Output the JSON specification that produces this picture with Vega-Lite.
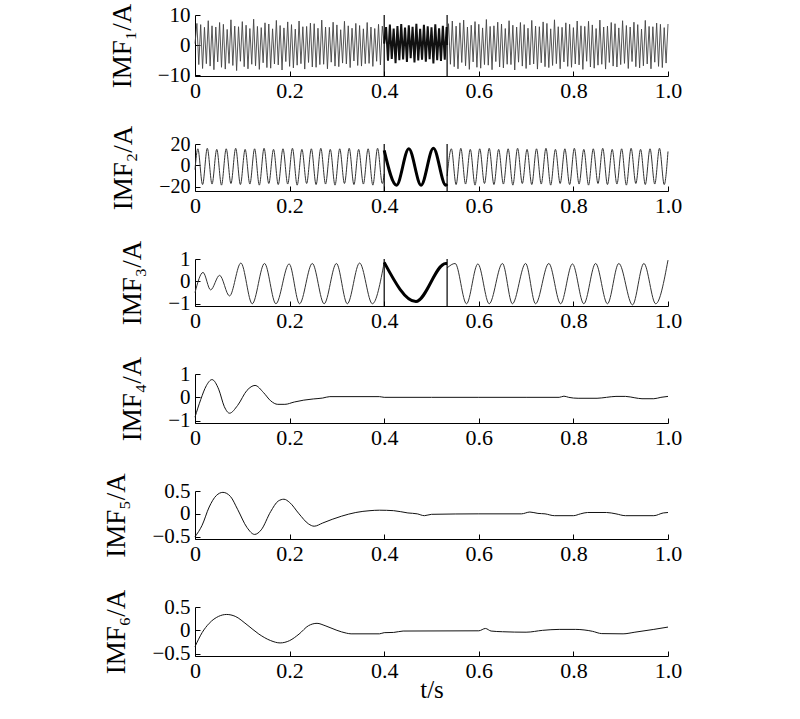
{
"$schema": "https://vega.github.io/schema/vega-lite/v6.json",
"padding": {"left": 102, "top": 3, "right": 5, "bottom": 5},
"background": "white",
"spacing": 68,
"bounds": "flush",
"config": {
  "font": "Liberation Serif",
  "view": {"stroke": null},
  "line": {"interpolate": "monotone"},
  "axis": {"labelFont": "Liberation Serif", "titleFont": "Liberation Serif", "labelFontSize": 22, "titleFontSize": 27, "titleFontWeight": "normal", "labelColor": "#000", "titleColor": "#000", "domainColor": "#000", "tickColor": "#000", "domainWidth": 1, "tickWidth": 1, "tickSize": -5, "grid": false, "labelFlush": false, "labelOverlap": false},
  "axisX": {"labelPadding": 9},
  "axisY": {"labelPadding": 10, "titlePadding": 21, "labelFontSize": 21}
},
"datasets": {
  "vl": [{"t": 0.4}, {"t": 0.533}],
  "d1a": [{"t":0,"v":0.5},{"t":0.004,"v":7.2},{"t":0.008,"v":-6.5},{"t":0.012,"v":6.8},{"t":0.016,"v":-7.8},{"t":0.02,"v":5.9},{"t":0.024,"v":-6.2},{"t":0.028,"v":8.1},{"t":0.032,"v":-7},{"t":0.036,"v":6.4},{"t":0.04,"v":-8.2},{"t":0.044,"v":6},{"t":0.048,"v":-5.6},{"t":0.052,"v":7.5},{"t":0.056,"v":-7.4},{"t":0.06,"v":6.9},{"t":0.064,"v":-8},{"t":0.068,"v":5.2},{"t":0.072,"v":-6.1},{"t":0.076,"v":8.4},{"t":0.08,"v":-6.8},{"t":0.084,"v":6.3},{"t":0.088,"v":-8.5},{"t":0.092,"v":6.1},{"t":0.096,"v":-5.4},{"t":0.1,"v":7.8},{"t":0.104,"v":-7.2},{"t":0.108,"v":6.6},{"t":0.112,"v":-7.9},{"t":0.116,"v":5.5},{"t":0.12,"v":-6.4},{"t":0.124,"v":8.6},{"t":0.128,"v":-6.9},{"t":0.132,"v":6.2},{"t":0.136,"v":-8.1},{"t":0.14,"v":5.8},{"t":0.144,"v":-5.9},{"t":0.148,"v":7.4},{"t":0.152,"v":-7.5},{"t":0.156,"v":7},{"t":0.16,"v":-7.7},{"t":0.164,"v":5.4},{"t":0.168,"v":-6.3},{"t":0.172,"v":8.2},{"t":0.176,"v":-6.6},{"t":0.18,"v":6.5},{"t":0.184,"v":-8.3},{"t":0.188,"v":5.7},{"t":0.192,"v":-5.5},{"t":0.196,"v":7.7},{"t":0.2,"v":-7.1},{"t":0.204,"v":6.8},{"t":0.208,"v":-7.6},{"t":0.212,"v":5.3},{"t":0.216,"v":-6.7},{"t":0.22,"v":8},{"t":0.224,"v":-6.2},{"t":0.228,"v":6.1},{"t":0.232,"v":-8},{"t":0.236,"v":6.2},{"t":0.24,"v":-5.8},{"t":0.244,"v":7.3},{"t":0.248,"v":-7.3},{"t":0.252,"v":7.1},{"t":0.256,"v":-7.4},{"t":0.26,"v":5.6},{"t":0.264,"v":-6.5},{"t":0.268,"v":8.3},{"t":0.272,"v":-6.4},{"t":0.276,"v":6},{"t":0.28,"v":-7.9},{"t":0.284,"v":5.9},{"t":0.288,"v":-5.7},{"t":0.292,"v":7.6},{"t":0.296,"v":-7},{"t":0.3,"v":6.7},{"t":0.304,"v":-7.2},{"t":0.308,"v":5.1},{"t":0.312,"v":-6},{"t":0.316,"v":7.9},{"t":0.32,"v":-6.3},{"t":0.324,"v":6.4},{"t":0.328,"v":-7.5},{"t":0.332,"v":5.6},{"t":0.336,"v":-5.3},{"t":0.34,"v":7.2},{"t":0.344,"v":-6.8},{"t":0.348,"v":6.5},{"t":0.352,"v":-7},{"t":0.356,"v":5.4},{"t":0.36,"v":-6.2},{"t":0.364,"v":7.5},{"t":0.368,"v":-6.1},{"t":0.372,"v":6},{"t":0.376,"v":-7.1},{"t":0.38,"v":5.5},{"t":0.384,"v":-5.4},{"t":0.388,"v":6.9},{"t":0.392,"v":-6.6},{"t":0.396,"v":6.3},{"t":0.4,"v":0.5}],
  "d1b": [{"t":0.4,"v":0.5},{"t":0.404,"v":6},{"t":0.408,"v":-5.2},{"t":0.412,"v":6.8},{"t":0.416,"v":-4.6},{"t":0.42,"v":5.5},{"t":0.424,"v":-6},{"t":0.428,"v":6.3},{"t":0.432,"v":-5},{"t":0.436,"v":7},{"t":0.44,"v":-4.8},{"t":0.444,"v":5.8},{"t":0.448,"v":-5.6},{"t":0.452,"v":6.6},{"t":0.456,"v":-4.4},{"t":0.46,"v":6.1},{"t":0.464,"v":-5.8},{"t":0.468,"v":7.1},{"t":0.472,"v":-5.1},{"t":0.476,"v":5.4},{"t":0.48,"v":-4.9},{"t":0.484,"v":6.7},{"t":0.488,"v":-5.5},{"t":0.492,"v":6.2},{"t":0.496,"v":-4.7},{"t":0.5,"v":5.9},{"t":0.504,"v":-6.1},{"t":0.508,"v":6.9},{"t":0.512,"v":-5},{"t":0.516,"v":5.6},{"t":0.52,"v":-5.3},{"t":0.524,"v":6.4},{"t":0.528,"v":-4.9},{"t":0.532,"v":6},{"t":0.533,"v":0}],
  "d1c": [{"t":0.533,"v":0},{"t":0.536,"v":7.1},{"t":0.54,"v":-6.4},{"t":0.544,"v":8},{"t":0.548,"v":-7.2},{"t":0.552,"v":6.3},{"t":0.556,"v":-7.9},{"t":0.56,"v":7.4},{"t":0.564,"v":-5.8},{"t":0.568,"v":8.3},{"t":0.572,"v":-6.9},{"t":0.576,"v":6},{"t":0.58,"v":-8.1},{"t":0.584,"v":6.6},{"t":0.588,"v":-5.6},{"t":0.592,"v":7.8},{"t":0.596,"v":-7.4},{"t":0.6,"v":6.9},{"t":0.604,"v":-7.7},{"t":0.608,"v":5.7},{"t":0.612,"v":-6.5},{"t":0.616,"v":8.5},{"t":0.62,"v":-6.7},{"t":0.624,"v":6.2},{"t":0.628,"v":-8.2},{"t":0.632,"v":6.4},{"t":0.636,"v":-5.5},{"t":0.64,"v":7.6},{"t":0.644,"v":-7.3},{"t":0.648,"v":7},{"t":0.652,"v":-7.6},{"t":0.656,"v":5.5},{"t":0.66,"v":-6.4},{"t":0.664,"v":8.1},{"t":0.668,"v":-6.5},{"t":0.672,"v":6.6},{"t":0.676,"v":-8.3},{"t":0.68,"v":6},{"t":0.684,"v":-5.7},{"t":0.688,"v":7.5},{"t":0.692,"v":-7},{"t":0.696,"v":6.8},{"t":0.7,"v":-7.8},{"t":0.704,"v":5.6},{"t":0.708,"v":-6.6},{"t":0.712,"v":8.2},{"t":0.716,"v":-6.3},{"t":0.72,"v":6.3},{"t":0.724,"v":-8},{"t":0.728,"v":6.1},{"t":0.732,"v":-5.9},{"t":0.736,"v":7.7},{"t":0.74,"v":-7.2},{"t":0.744,"v":7.2},{"t":0.748,"v":-7.5},{"t":0.752,"v":5.4},{"t":0.756,"v":-6.8},{"t":0.76,"v":8.4},{"t":0.764,"v":-6.2},{"t":0.768,"v":6.1},{"t":0.772,"v":-7.9},{"t":0.776,"v":5.9},{"t":0.78,"v":-5.6},{"t":0.784,"v":7.4},{"t":0.788,"v":-7.1},{"t":0.792,"v":6.9},{"t":0.796,"v":-7.4},{"t":0.8,"v":5.8},{"t":0.804,"v":-6.3},{"t":0.808,"v":8},{"t":0.812,"v":-6.6},{"t":0.816,"v":6.4},{"t":0.82,"v":-8.1},{"t":0.824,"v":6.2},{"t":0.828,"v":-5.4},{"t":0.832,"v":7.9},{"t":0.836,"v":-7.3},{"t":0.84,"v":6.7},{"t":0.844,"v":-7.7},{"t":0.848,"v":5.5},{"t":0.852,"v":-6.7},{"t":0.856,"v":8.3},{"t":0.86,"v":-6.4},{"t":0.864,"v":6},{"t":0.868,"v":-8},{"t":0.872,"v":6.3},{"t":0.876,"v":-5.8},{"t":0.88,"v":7.5},{"t":0.884,"v":-7},{"t":0.888,"v":7.1},{"t":0.892,"v":-7.3},{"t":0.896,"v":5.7},{"t":0.9,"v":-6.5},{"t":0.904,"v":8.1},{"t":0.908,"v":-6.1},{"t":0.912,"v":6.5},{"t":0.916,"v":-7.8},{"t":0.92,"v":6},{"t":0.924,"v":-5.5},{"t":0.928,"v":7.6},{"t":0.932,"v":-7.2},{"t":0.936,"v":6.8},{"t":0.94,"v":-7.6},{"t":0.944,"v":5.3},{"t":0.948,"v":-6.9},{"t":0.952,"v":8.2},{"t":0.956,"v":-6.3},{"t":0.96,"v":6.2},{"t":0.964,"v":-7.9},{"t":0.968,"v":6.1},{"t":0.972,"v":-5.7},{"t":0.976,"v":7.3},{"t":0.98,"v":-7.1},{"t":0.984,"v":6.9},{"t":0.988,"v":-7.5},{"t":0.992,"v":5.8},{"t":0.996,"v":-6},{"t":1,"v":7}],
  "d2a": [{"t":0,"v":-4},{"t":0.006,"v":15.5},{"t":0.016,"v":-18},{"t":0.026,"v":16},{"t":0.036,"v":-17.5},{"t":0.046,"v":15},{"t":0.056,"v":-18.5},{"t":0.066,"v":15.5},{"t":0.076,"v":-17},{"t":0.086,"v":16},{"t":0.096,"v":-18},{"t":0.106,"v":15},{"t":0.116,"v":-17.5},{"t":0.126,"v":15.5},{"t":0.136,"v":-18.5},{"t":0.146,"v":16},{"t":0.156,"v":-17},{"t":0.166,"v":15},{"t":0.176,"v":-18},{"t":0.186,"v":15.5},{"t":0.196,"v":-17.5},{"t":0.206,"v":16},{"t":0.216,"v":-18.5},{"t":0.226,"v":15},{"t":0.236,"v":-17},{"t":0.246,"v":15.5},{"t":0.256,"v":-18},{"t":0.266,"v":16},{"t":0.276,"v":-17.5},{"t":0.286,"v":15},{"t":0.296,"v":-18.5},{"t":0.306,"v":15.5},{"t":0.316,"v":-17},{"t":0.326,"v":16},{"t":0.336,"v":-18},{"t":0.346,"v":15},{"t":0.356,"v":-17.5},{"t":0.366,"v":15.5},{"t":0.376,"v":-18.5},{"t":0.386,"v":16},{"t":0.396,"v":-17},{"t":0.4,"v":-8}],
  "d2b": [{"t":0.4,"v":14},{"t":0.426,"v":-18.5},{"t":0.452,"v":15.5},{"t":0.478,"v":-18.5},{"t":0.504,"v":16},{"t":0.53,"v":-18.5},{"t":0.533,"v":-17.5}],
  "d2c": [{"t":0.533,"v":-10},{"t":0.542,"v":15.5},{"t":0.552,"v":-18},{"t":0.562,"v":16},{"t":0.572,"v":-17.5},{"t":0.582,"v":15},{"t":0.592,"v":-18.5},{"t":0.602,"v":15.5},{"t":0.612,"v":-17},{"t":0.622,"v":16},{"t":0.632,"v":-18},{"t":0.642,"v":15},{"t":0.652,"v":-17.5},{"t":0.662,"v":15.5},{"t":0.672,"v":-18.5},{"t":0.682,"v":16},{"t":0.692,"v":-17},{"t":0.702,"v":15},{"t":0.712,"v":-18},{"t":0.722,"v":15.5},{"t":0.732,"v":-17.5},{"t":0.742,"v":16},{"t":0.752,"v":-18.5},{"t":0.762,"v":15},{"t":0.772,"v":-17},{"t":0.782,"v":15.5},{"t":0.792,"v":-18},{"t":0.802,"v":16},{"t":0.812,"v":-17.5},{"t":0.822,"v":15},{"t":0.832,"v":-18.5},{"t":0.842,"v":15.5},{"t":0.852,"v":-17},{"t":0.862,"v":16},{"t":0.872,"v":-18},{"t":0.882,"v":15},{"t":0.892,"v":-17.5},{"t":0.902,"v":15.5},{"t":0.912,"v":-18.5},{"t":0.922,"v":16},{"t":0.932,"v":-17},{"t":0.942,"v":15},{"t":0.952,"v":-18},{"t":0.962,"v":15.5},{"t":0.972,"v":-17.5},{"t":0.982,"v":16},{"t":0.992,"v":-18},{"t":1,"v":13}],
  "d3a": [{"t":0,"v":-0.5},{"t":0.017,"v":0.4},{"t":0.033,"v":-0.38},{"t":0.052,"v":0.27},{"t":0.073,"v":-0.65},{"t":0.097,"v":0.82},{"t":0.121,"v":-1},{"t":0.147,"v":0.8},{"t":0.171,"v":-1},{"t":0.199,"v":0.78},{"t":0.221,"v":-1},{"t":0.248,"v":0.8},{"t":0.273,"v":-1},{"t":0.299,"v":0.8},{"t":0.322,"v":-1},{"t":0.348,"v":0.82},{"t":0.375,"v":-1},{"t":0.4,"v":0.85}],
  "d3b": [{"t":0.4,"v":0.85},{"t":0.467,"v":-0.9},{"t":0.53,"v":0.8},{"t":0.533,"v":0.8}],
  "d3c": [{"t":0.533,"v":0.6},{"t":0.55,"v":0.8},{"t":0.574,"v":-1},{"t":0.598,"v":0.78},{"t":0.622,"v":-1},{"t":0.65,"v":0.8},{"t":0.671,"v":-1},{"t":0.699,"v":0.8},{"t":0.72,"v":-1},{"t":0.748,"v":0.8},{"t":0.773,"v":-1},{"t":0.798,"v":0.78},{"t":0.822,"v":-1},{"t":0.847,"v":0.8},{"t":0.872,"v":-1},{"t":0.896,"v":0.8},{"t":0.925,"v":-1.05},{"t":0.949,"v":0.8},{"t":0.974,"v":-1},{"t":1,"v":0.95}],
  "d4": [{"t":0,"v":-0.85},{"t":0.012,"v":-0.1},{"t":0.024,"v":0.5},{"t":0.036,"v":0.76},{"t":0.05,"v":0.35},{"t":0.062,"v":-0.4},{"t":0.073,"v":-0.68},{"t":0.09,"v":-0.35},{"t":0.11,"v":0.3},{"t":0.127,"v":0.51},{"t":0.145,"v":0.2},{"t":0.16,"v":-0.15},{"t":0.175,"v":-0.3},{"t":0.19,"v":-0.3},{"t":0.21,"v":-0.2},{"t":0.23,"v":-0.12},{"t":0.25,"v":-0.07},{"t":0.27,"v":-0.03},{"t":0.285,"v":0.03},{"t":0.39,"v":0.03},{"t":0.4,"v":0},{"t":0.5,"v":0},{"t":0.6,"v":0},{"t":0.7,"v":0},{"t":0.77,"v":0},{"t":0.78,"v":0.05},{"t":0.79,"v":0},{"t":0.81,"v":-0.04},{"t":0.85,"v":-0.04},{"t":0.87,"v":0},{"t":0.89,"v":0.04},{"t":0.91,"v":0.04},{"t":0.93,"v":-0.02},{"t":0.945,"v":-0.06},{"t":0.97,"v":-0.06},{"t":0.985,"v":0},{"t":1,"v":0.04}],
  "d5": [{"t":0,"v":-0.5},{"t":0.015,"v":-0.25},{"t":0.03,"v":0.15},{"t":0.045,"v":0.4},{"t":0.059,"v":0.47},{"t":0.075,"v":0.38},{"t":0.09,"v":0.1},{"t":0.11,"v":-0.3},{"t":0.126,"v":-0.45},{"t":0.14,"v":-0.35},{"t":0.16,"v":0.05},{"t":0.176,"v":0.28},{"t":0.188,"v":0.32},{"t":0.2,"v":0.25},{"t":0.22,"v":0},{"t":0.24,"v":-0.22},{"t":0.252,"v":-0.27},{"t":0.27,"v":-0.2},{"t":0.29,"v":-0.12},{"t":0.31,"v":-0.05},{"t":0.34,"v":0.03},{"t":0.37,"v":0.07},{"t":0.39,"v":0.08},{"t":0.42,"v":0.07},{"t":0.45,"v":0.02},{"t":0.47,"v":0},{"t":0.485,"v":-0.04},{"t":0.5,"v":-0.01},{"t":0.6,"v":0},{"t":0.69,"v":0},{"t":0.708,"v":0.04},{"t":0.725,"v":0.01},{"t":0.74,"v":0},{"t":0.76,"v":-0.04},{"t":0.8,"v":-0.04},{"t":0.815,"v":0},{"t":0.83,"v":0.03},{"t":0.87,"v":0.03},{"t":0.89,"v":0},{"t":0.91,"v":-0.04},{"t":0.97,"v":-0.04},{"t":0.99,"v":0.02},{"t":1,"v":0.03}],
  "d6": [{"t":0,"v":-0.35},{"t":0.015,"v":-0.05},{"t":0.03,"v":0.15},{"t":0.05,"v":0.3},{"t":0.067,"v":0.34},{"t":0.085,"v":0.3},{"t":0.11,"v":0.12},{"t":0.135,"v":-0.08},{"t":0.16,"v":-0.22},{"t":0.18,"v":-0.27},{"t":0.2,"v":-0.22},{"t":0.22,"v":-0.08},{"t":0.24,"v":0.1},{"t":0.258,"v":0.15},{"t":0.275,"v":0.1},{"t":0.3,"v":0},{"t":0.32,"v":-0.06},{"t":0.33,"v":-0.075},{"t":0.39,"v":-0.075},{"t":0.4,"v":-0.05},{"t":0.42,"v":-0.045},{"t":0.44,"v":-0.015},{"t":0.6,"v":-0.01},{"t":0.614,"v":0.04},{"t":0.626,"v":-0.015},{"t":0.65,"v":-0.03},{"t":0.7,"v":-0.04},{"t":0.735,"v":0},{"t":0.77,"v":0.02},{"t":0.805,"v":0.02},{"t":0.84,"v":-0.02},{"t":0.86,"v":-0.07},{"t":0.905,"v":-0.075},{"t":0.93,"v":-0.04},{"t":0.97,"v":0.02},{"t":1,"v":0.07}]
},
"vconcat": [
  {"width": 473, "height": 61, "layer": [
    {"data": {"name": "d1a"}, "mark": {"type": "line", "interpolate": "linear", "color": "#444", "strokeWidth": 0.9},
     "encoding": {
       "x": {"field": "t", "type": "quantitative", "scale": {"domain": [0, 1], "nice": false}, "axis": {"values": [0, 0.2, 0.4, 0.6, 0.8, 1], "labelExpr": "datum.value == 0 ? '0' : format(datum.value, '.1f')", "labelFont": "Liberation Serif", "title": null}},
       "y": {"field": "v", "type": "quantitative", "scale": {"domain": [-10.3, 10], "nice": false, "zero": false}, "axis": {"values": [-10, 0, 10], "labelExpr": "format(datum.value, '~g')", "labelFont": "Liberation Serif", "title": "IMF₁/A"}}}},
    {"data": {"name": "d1b"}, "mark": {"type": "line", "interpolate": "linear", "color": "#111", "strokeWidth": 2},
     "encoding": {
       "x": {"field": "t", "type": "quantitative", "axis": {"values": [0, 0.2, 0.4, 0.6, 0.8, 1], "labelExpr": "datum.value == 0 ? '0' : format(datum.value, '.1f')", "labelFont": "Liberation Serif", "title": null}},
       "y": {"field": "v", "type": "quantitative", "axis": {"values": [-10, 0, 10], "labelExpr": "format(datum.value, '~g')", "labelFont": "Liberation Serif", "title": "IMF₁/A"}}}},
    {"data": {"name": "d1c"}, "mark": {"type": "line", "interpolate": "linear", "color": "#444", "strokeWidth": 0.9},
     "encoding": {
       "x": {"field": "t", "type": "quantitative", "axis": {"values": [0, 0.2, 0.4, 0.6, 0.8, 1], "labelExpr": "datum.value == 0 ? '0' : format(datum.value, '.1f')", "labelFont": "Liberation Serif", "title": null}},
       "y": {"field": "v", "type": "quantitative", "axis": {"values": [-10, 0, 10], "labelExpr": "format(datum.value, '~g')", "labelFont": "Liberation Serif", "title": "IMF₁/A"}}}},
    {"data": {"name": "vl"}, "mark": {"type": "rule", "color": "#000", "strokeWidth": 1.2},
     "encoding": {
       "x": {"field": "t", "type": "quantitative", "axis": {"values": [0, 0.2, 0.4, 0.6, 0.8, 1], "labelExpr": "datum.value == 0 ? '0' : format(datum.value, '.1f')", "labelFont": "Liberation Serif", "title": null}}}}
  ]},
  {"width": 473, "height": 47, "layer": [
    {"data": {"name": "d2a"}, "mark": {"type": "line", "color": "#333", "strokeWidth": 1},
     "encoding": {
       "x": {"field": "t", "type": "quantitative", "scale": {"domain": [0, 1], "nice": false}, "axis": {"values": [0, 0.2, 0.4, 0.6, 0.8, 1], "labelExpr": "datum.value == 0 ? '0' : format(datum.value, '.1f')", "labelFont": "Liberation Serif", "title": null}},
       "y": {"field": "v", "type": "quantitative", "scale": {"domain": [-24, 20], "nice": false, "zero": false}, "axis": {"values": [-20, 0, 20], "labelExpr": "format(datum.value, '~g')", "labelFont": "Liberation Serif", "labelFontSize": 20, "title": "IMF₂/A"}}}},
    {"data": {"name": "d2b"}, "mark": {"type": "line", "color": "#000", "strokeWidth": 3},
     "encoding": {
       "x": {"field": "t", "type": "quantitative", "axis": {"values": [0, 0.2, 0.4, 0.6, 0.8, 1], "labelExpr": "datum.value == 0 ? '0' : format(datum.value, '.1f')", "labelFont": "Liberation Serif", "title": null}},
       "y": {"field": "v", "type": "quantitative", "axis": {"values": [-20, 0, 20], "labelExpr": "format(datum.value, '~g')", "labelFont": "Liberation Serif", "labelFontSize": 20, "title": "IMF₂/A"}}}},
    {"data": {"name": "d2c"}, "mark": {"type": "line", "color": "#333", "strokeWidth": 1},
     "encoding": {
       "x": {"field": "t", "type": "quantitative", "axis": {"values": [0, 0.2, 0.4, 0.6, 0.8, 1], "labelExpr": "datum.value == 0 ? '0' : format(datum.value, '.1f')", "labelFont": "Liberation Serif", "title": null}},
       "y": {"field": "v", "type": "quantitative", "axis": {"values": [-20, 0, 20], "labelExpr": "format(datum.value, '~g')", "labelFont": "Liberation Serif", "labelFontSize": 20, "title": "IMF₂/A"}}}},
    {"data": {"name": "vl"}, "mark": {"type": "rule", "color": "#000", "strokeWidth": 1.2},
     "encoding": {
       "x": {"field": "t", "type": "quantitative", "axis": {"values": [0, 0.2, 0.4, 0.6, 0.8, 1], "labelExpr": "datum.value == 0 ? '0' : format(datum.value, '.1f')", "labelFont": "Liberation Serif", "title": null}}}}
  ]},
  {"width": 473, "height": 47, "layer": [
    {"data": {"name": "d3a"}, "mark": {"type": "line", "color": "#333", "strokeWidth": 1},
     "encoding": {
       "x": {"field": "t", "type": "quantitative", "scale": {"domain": [0, 1], "nice": false}, "axis": {"values": [0, 0.2, 0.4, 0.6, 0.8, 1], "labelExpr": "datum.value == 0 ? '0' : format(datum.value, '.1f')", "labelFont": "Liberation Serif", "title": null}},
       "y": {"field": "v", "type": "quantitative", "scale": {"domain": [-1.1, 1], "nice": false, "zero": false}, "axis": {"values": [-1, 0, 1], "labelExpr": "format(datum.value, '~g')", "labelFont": "Liberation Serif", "title": "IMF₃/A"}}}},
    {"data": {"name": "d3b"}, "mark": {"type": "line", "color": "#000", "strokeWidth": 3},
     "encoding": {
       "x": {"field": "t", "type": "quantitative", "axis": {"values": [0, 0.2, 0.4, 0.6, 0.8, 1], "labelExpr": "datum.value == 0 ? '0' : format(datum.value, '.1f')", "labelFont": "Liberation Serif", "title": null}},
       "y": {"field": "v", "type": "quantitative", "axis": {"values": [-1, 0, 1], "labelExpr": "format(datum.value, '~g')", "labelFont": "Liberation Serif", "title": "IMF₃/A"}}}},
    {"data": {"name": "d3c"}, "mark": {"type": "line", "color": "#333", "strokeWidth": 1},
     "encoding": {
       "x": {"field": "t", "type": "quantitative", "axis": {"values": [0, 0.2, 0.4, 0.6, 0.8, 1], "labelExpr": "datum.value == 0 ? '0' : format(datum.value, '.1f')", "labelFont": "Liberation Serif", "title": null}},
       "y": {"field": "v", "type": "quantitative", "axis": {"values": [-1, 0, 1], "labelExpr": "format(datum.value, '~g')", "labelFont": "Liberation Serif", "title": "IMF₃/A"}}}},
    {"data": {"name": "vl"}, "mark": {"type": "rule", "color": "#000", "strokeWidth": 1.2},
     "encoding": {
       "x": {"field": "t", "type": "quantitative", "axis": {"values": [0, 0.2, 0.4, 0.6, 0.8, 1], "labelExpr": "datum.value == 0 ? '0' : format(datum.value, '.1f')", "labelFont": "Liberation Serif", "title": null}}}}
  ]},
  {"width": 473, "height": 49, "data": {"name": "d4"}, "mark": {"type": "line", "color": "#111", "strokeWidth": 1},
   "encoding": {
     "x": {"field": "t", "type": "quantitative", "scale": {"domain": [0, 1], "nice": false}, "axis": {"values": [0, 0.2, 0.4, 0.6, 0.8, 1], "labelExpr": "datum.value == 0 ? '0' : format(datum.value, '.1f')", "labelFont": "Liberation Serif", "title": null}},
     "y": {"field": "v", "type": "quantitative", "scale": {"domain": [-1.1, 1], "nice": false, "zero": false}, "axis": {"values": [-1, 0, 1], "labelExpr": "format(datum.value, '~g')", "labelFont": "Liberation Serif", "title": "IMF₄/A"}}}},
  {"width": 473, "height": 48, "data": {"name": "d5"}, "mark": {"type": "line", "color": "#111", "strokeWidth": 1},
   "encoding": {
     "x": {"field": "t", "type": "quantitative", "scale": {"domain": [0, 1], "nice": false}, "axis": {"values": [0, 0.2, 0.4, 0.6, 0.8, 1], "labelExpr": "datum.value == 0 ? '0' : format(datum.value, '.1f')", "labelFont": "Liberation Serif", "title": null}},
     "y": {"field": "v", "type": "quantitative", "scale": {"domain": [-0.55, 0.5], "nice": false, "zero": false}, "axis": {"values": [-0.5, 0, 0.5], "labelExpr": "format(datum.value, '~g')", "labelFont": "Liberation Serif", "title": "IMF₅/A"}}}},
  {"width": 473, "height": 49, "data": {"name": "d6"}, "mark": {"type": "line", "color": "#111", "strokeWidth": 1},
   "encoding": {
     "x": {"field": "t", "type": "quantitative", "scale": {"domain": [0, 1], "nice": false}, "axis": {"values": [0, 0.2, 0.4, 0.6, 0.8, 1], "labelExpr": "datum.value == 0 ? '0' : format(datum.value, '.1f')", "labelFont": "Liberation Serif", "title": "t/s", "titleFontSize": 25, "titlePadding": -4}},
     "y": {"field": "v", "type": "quantitative", "scale": {"domain": [-0.55, 0.5], "nice": false, "zero": false}, "axis": {"values": [-0.5, 0, 0.5], "labelExpr": "format(datum.value, '~g')", "labelFont": "Liberation Serif", "title": "IMF₆/A"}}}}
]
}
